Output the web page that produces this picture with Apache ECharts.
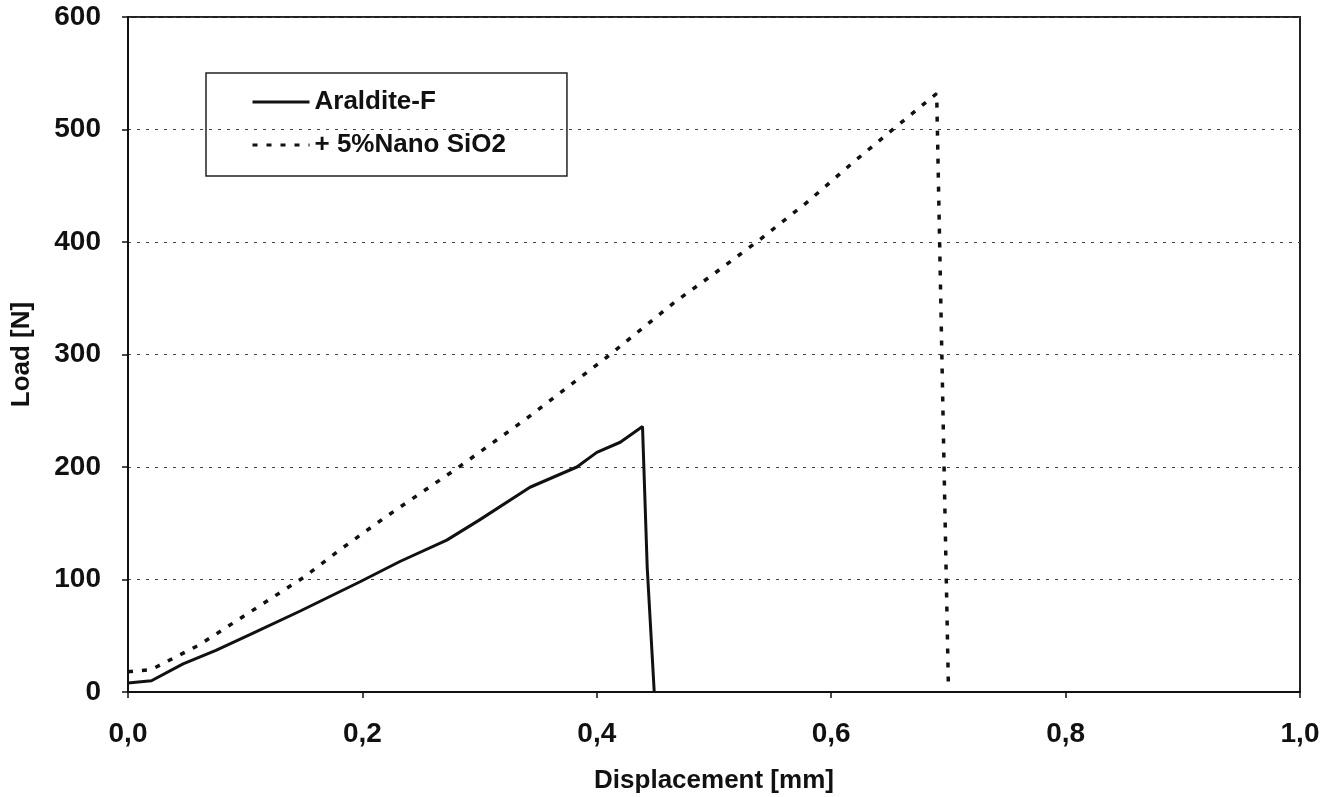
<!DOCTYPE html>
<html>
<head>
<meta charset="utf-8">
<title>Load vs Displacement</title>
<script src="https://cdn.jsdelivr.net/npm/echarts@6/dist/echarts.min.js"></script>
<style>
  html, body { margin: 0; padding: 0; background: #fff; }
  #main { width: 1331px; height: 797px; }
</style>
</head>
<body>
<div id="main"></div>
<script>
// Araldite-F (solid line)
var aralditeX = [0, 0.02, 0.047, 0.075, 0.104, 0.147, 0.198, 0.232, 0.272, 0.300, 0.343, 0.383, 0.400, 0.420, 0.439, 0.443, 0.449];
var aralditeY = [8, 10, 25, 37, 51, 72, 98, 116, 135, 153, 182, 200, 213, 222, 236, 111, 0];

// + 5%Nano SiO2 (dotted line)
var nanoX = [0, 0.02, 0.061, 0.110, 0.150, 0.179, 0.219, 0.281, 0.340, 0.409, 0.467, 0.499, 0.539, 0.579, 0.619, 0.649, 0.690, 0.700];
var nanoY = [18, 20, 42, 75, 102, 125, 155, 199, 243, 298, 347, 371, 402, 435, 471, 497, 532, 5];

var seriesNames = ['Araldite-F', '+ 5%Nano SiO2'];

function pairs(xs, ys) {
    var out = [];
    for (var i = 0; i < xs.length; i++) {
        out.push([xs[i], ys[i]]);
    }
    return out;
}

var font = '"Liberation Sans", Arial, sans-serif';
var ink = '#111';

var myChart = echarts.init(document.getElementById('main'));

var option = {
    backgroundColor: '#fff',
    animation: false,
    grid: {
        left: 128,
        right: 31,
        top: 17,
        bottom: 105,
        show: true,
        borderColor: '#222',
        borderWidth: 2,
        outerBoundsMode: 'none'
    },
    legend: {
        orient: 'vertical',
        left: 206,
        top: 73,
        padding: [16, 61, 18, 45],
        itemGap: 17,
        itemWidth: 57,
        itemHeight: 26,
        borderColor: '#222',
        borderWidth: 1.5,
        itemStyle: { opacity: 0 },
        lineStyle: { width: 3 },
        data: seriesNames,
        textStyle: {
            fontFamily: font,
            fontWeight: 'bold',
            fontSize: 26,
            color: ink
        }
    },
    xAxis: {
        type: 'value',
        min: 0,
        max: 1,
        interval: 0.2,
        name: 'Displacement [mm]',
        nameLocation: 'middle',
        nameGap: 76,
        nameTextStyle: {
            fontFamily: font,
            fontWeight: 'bold',
            fontSize: 26,
            color: ink
        },
        axisLine: { show: true, lineStyle: { color: ink, width: 2 } },
        axisTick: { show: true, length: 6, lineStyle: { color: ink, width: 1.5 } },
        axisLabel: {
            margin: 28,
            fontFamily: font,
            fontWeight: 'bold',
            fontSize: 28,
            color: ink,
            formatter: function (v) { return v.toFixed(1).replace('.', ','); }
        },
        splitLine: { show: false }
    },
    yAxis: {
        type: 'value',
        min: 0,
        max: 600,
        interval: 100,
        name: 'Load [N]',
        nameLocation: 'middle',
        nameGap: 93,
        nameTextStyle: {
            fontFamily: font,
            fontWeight: 'bold',
            fontSize: 26,
            color: ink
        },
        axisLine: { show: true, lineStyle: { color: ink, width: 2 } },
        axisTick: { show: true, length: 6, lineStyle: { color: ink, width: 1.5 } },
        axisLabel: {
            margin: 27,
            fontFamily: font,
            fontWeight: 'bold',
            fontSize: 28,
            color: ink
        },
        splitLine: {
            show: true,
            lineStyle: { color: '#444', width: 1, type: [3, 6] }
        }
    },
    series: [
        {
            name: seriesNames[0],
            type: 'line',
            symbol: 'none',
            data: pairs(aralditeX, aralditeY),
            lineStyle: { color: ink, width: 3 },
            itemStyle: { color: ink }
        },
        {
            name: seriesNames[1],
            type: 'line',
            symbol: 'none',
            data: pairs(nanoX, nanoY),
            lineStyle: { color: ink, width: 3.5, type: [5, 9] },
            itemStyle: { color: ink }
        }
    ]
};

myChart.setOption(option);
</script>
</body>
</html>
